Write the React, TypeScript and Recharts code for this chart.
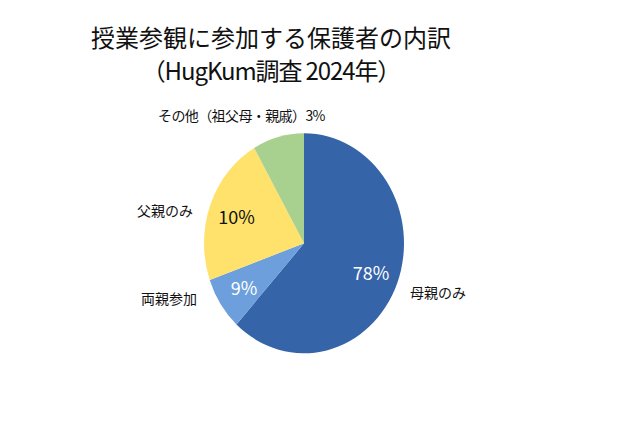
import { PieChart, Pie, Cell } from "recharts";

// slice names, clockwise from 12 o'clock
const categories = ["母親のみ", "両親参加", "父親のみ", "その他（祖父母・親戚）3%"];
// slice sizes as drawn in the picture (the printed labels differ from the drawn angles)
const drawnShares = [61.8, 7.8, 22.1, 8.3];
// percentages printed on the slices
const printedLabels = ["78%", "9%", "10%", ""];
const colors = ["#3564A9", "#6C9FDB", "#FFE26B", "#A8D08E"];
const labelColors = ["#ffffff", "#ffffff", "#111111", "#111111"];

const STRETCH = 1.1; // the pie in the picture is a slightly tall ellipse
const FONT = "'Noto Sans CJK JP', 'Noto Sans', sans-serif";

const data = categories.map((name, i) => ({
  name,
  value: drawnShares[i],
  label: printedLabels[i],
}));

const RADIAN = Math.PI / 180;

function InnerLabel(props: any) {
  const { cx, cy, midAngle, outerRadius, index } = props;
  const r = outerRadius * 0.72;
  const x = cx + r * Math.cos(-midAngle * RADIAN);
  const y = cy + r * Math.sin(-midAngle * RADIAN);
  if (!printedLabels[index]) return null;
  return (
    <text
      transform={`translate(${x},${y}) scale(1,${1 / STRETCH})`}
      x={0}
      y={0}
      textAnchor="middle"
      dominantBaseline="central"
      fill={labelColors[index]}
      fontSize={18}
      fontFamily={FONT}
    >
      {printedLabels[index]}
    </text>
  );
}

// outer name labels, placed like the hand-positioned text boxes of the original
const outerLabelPos = [
  { left: 410, top: 292 },
  { left: 141, top: 298 },
  { left: 137, top: 210 },
  { left: 158, top: 115 },
];

export default function App() {
  return (
    <div
      style={{
        position: "absolute",
        left: 0,
        top: 0,
        width: 640,
        height: 427,
        background: "#fff",
        fontFamily: FONT,
        color: "#111",
        overflow: "hidden",
      }}
    >
      <div
        style={{
          position: "absolute",
          left: 0,
          top: 0,
          width: 640,
          height: 427 / STRETCH,
          transform: `scaleY(${STRETCH})`,
          transformOrigin: "0 0",
        }}
      >
        <PieChart
          width={640}
          height={427 / STRETCH}
          margin={{ top: 0, right: 0, bottom: 0, left: 0 }}
        >
          <Pie
            data={data}
            dataKey="value"
            nameKey="name"
            cx={304}
            cy={243.3 / STRETCH}
            outerRadius={100}
            startAngle={90}
            endAngle={-270}
            stroke="none"
            label={InnerLabel}
            labelLine={false}
            isAnimationActive={false}
          >
            {data.map((d, i) => (
              <Cell key={d.name} fill={colors[i]} />
            ))}
          </Pie>
        </PieChart>
      </div>

      <div
        style={{
          position: "absolute",
          left: 0,
          width: 542,
          top: 20,
          textAlign: "center",
          fontSize: 24,
          lineHeight: "33px",
        }}
      >
        <div>授業参観に参加する保護者の内訳</div>
        <div style={{ letterSpacing: "-1.1px" }}>（HugKum調査 2024年）</div>
      </div>

      {categories.map((name, i) => (
        <div
          key={name}
          style={{
            position: "absolute",
            left: outerLabelPos[i].left,
            top: outerLabelPos[i].top - 10,
            fontSize: 14,
            lineHeight: "20px",
            whiteSpace: "nowrap",
            letterSpacing: i === 3 ? "-0.6px" : "0px",
          }}
        >
          {name}
        </div>
      ))}
    </div>
  );
}
